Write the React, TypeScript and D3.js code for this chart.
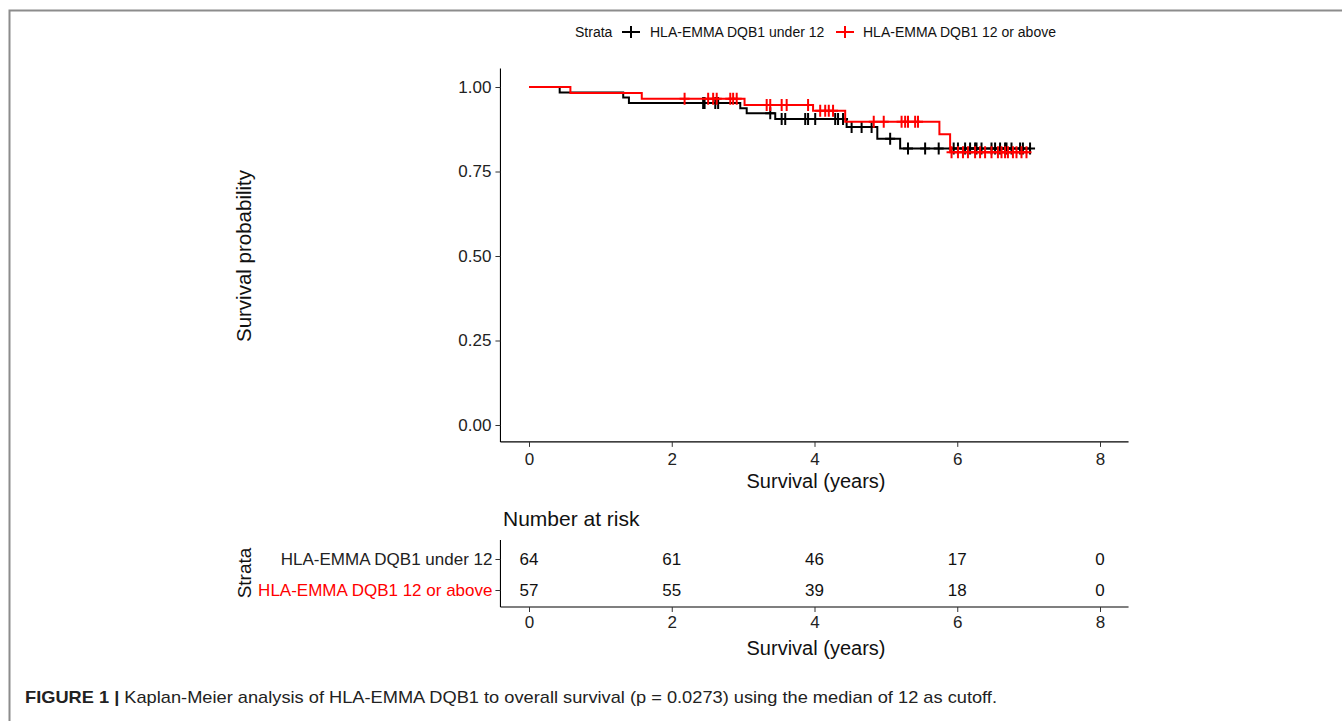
import React, { useEffect, useRef } from 'react';
import * as d3 from 'd3';

const strata = ['HLA-EMMA DQB1 under 12', 'HLA-EMMA DQB1 12 or above'];
const strataColors = ['#000000', '#ff0000'];

// Kaplan-Meier steps: [time, survival after the drop]
const underSteps: [number, number][] = [
  [0, 1], [0.43, 0.984], [1.32, 0.969], [1.4, 0.953], [2.96, 0.937], [3.05, 0.922],
  [3.45, 0.905], [4.45, 0.882], [4.88, 0.847], [5.2, 0.818],
];
const underEnd = 7.03;
const underCensor = [
  2.44, 2.46, 2.61, 2.65, 3.38, 3.54, 3.59, 3.87, 3.91, 4.01, 4.29, 4.33, 4.4, 4.52, 4.66,
  4.8, 5.06, 5.31, 5.55, 5.74, 5.95, 6.01, 6.11, 6.18, 6.25, 6.27, 6.34, 6.48, 6.53, 6.6,
  6.67, 6.69, 6.76, 6.88, 6.92, 7.02,
];

const aboveSteps: [number, number][] = [
  [0, 1], [0.58, 0.982], [1.58, 0.965], [3.02, 0.947], [3.98, 0.93], [4.43, 0.897],
  [5.75, 0.86], [5.9, 0.807],
];
const aboveEnd = 7.0;
const aboveCensor = [
  2.18, 2.51, 2.58, 2.63, 2.82, 2.86, 2.91, 3.33, 3.38, 3.54, 3.61, 3.91, 4.08, 4.15, 4.2,
  4.26, 4.83, 4.97, 5.22, 5.27, 5.31, 5.41, 5.45, 5.92, 6.01, 6.08, 6.15, 6.25, 6.32, 6.39,
  6.48, 6.57, 6.62, 6.67, 6.71, 6.78, 6.83, 6.9, 6.97,
];

const xTicks = [0, 2, 4, 6, 8];
const yTicks = [0, 0.25, 0.5, 0.75, 1];
const riskUnder = [64, 61, 46, 17, 0];
const riskAbove = [57, 55, 39, 18, 0];

const FONT = '"Liberation Sans", Arial, sans-serif';

function survAt(steps: [number, number][], t: number) {
  let s = 1;
  for (const [time, val] of steps) if (time <= t) s = val;
  return s;
}

export default function App() {
  const ref = useRef<SVGSVGElement>(null);

  useEffect(() => {
    const svg = d3.select(ref.current);
    svg.selectAll('*').remove();

    // frame of the figure
    svg.append('path')
      .attr('d', 'M9.5,721 V10.5 H1342')
      .attr('fill', 'none')
      .attr('stroke', '#8c8c8c')
      .attr('stroke-width', 2);

    const x = d3.scaleLinear().domain([0, 8]).range([529, 1100]);
    const y = d3.scaleLinear().domain([0, 1]).range([425, 87]);

    // legend
    const leg = svg.append('g').attr('font-family', FONT).attr('font-size', 14).attr('fill', '#111');
    leg.append('text').attr('x', 575).attr('y', 37).text('Strata');
    const keyX = [631, 845];
    const labX = [650, 863];
    strata.forEach((s, i) => {
      leg.append('line').attr('x1', keyX[i] - 9).attr('x2', keyX[i] + 9).attr('y1', 32).attr('y2', 32)
        .attr('stroke', strataColors[i]).attr('stroke-width', 2);
      leg.append('line').attr('x1', keyX[i]).attr('x2', keyX[i]).attr('y1', 26).attr('y2', 38)
        .attr('stroke', strataColors[i]).attr('stroke-width', 2);
      leg.append('text').attr('x', labX[i]).attr('y', 37).text(s);
    });

    // survival plot axes
    const plot = svg.append('g');
    plot.append('g')
      .attr('transform', `translate(${x(-0.4)},0)`)
      .call(d3.axisLeft(y).tickValues(yTicks).tickFormat(d3.format('.2f')).tickSize(5).tickPadding(4))
      .call((g) => g.select('.domain').attr('d', `M0,${y(1.055)}V${y(-0.05)}`));
    plot.append('g')
      .attr('transform', `translate(0,${y(-0.05)})`)
      .call(d3.axisBottom(x).tickValues(xTicks).tickSize(5).tickPadding(6))
      .call((g) => g.select('.domain').attr('d', `M${x(-0.4)},0H${x(8.4)}`));
    plot.selectAll('.tick text').attr('font-family', FONT).attr('font-size', 17).attr('fill', '#222');
    plot.selectAll('.tick line').attr('stroke', '#333');
    plot.selectAll('.domain').attr('stroke', '#000').attr('stroke-width', 1.1);

    plot.append('text')
      .attr('x', 816).attr('y', 488).attr('text-anchor', 'middle')
      .attr('font-family', FONT).attr('font-size', 20).attr('fill', '#111')
      .text('Survival (years)');
    plot.append('text')
      .attr('transform', `translate(251,256) rotate(-90)`).attr('text-anchor', 'middle')
      .attr('font-family', FONT).attr('font-size', 20.5).attr('fill', '#111')
      .text('Survival probability');

    // curves
    const line = d3.line<[number, number]>()
      .x((d) => x(d[0]))
      .y((d) => y(d[1]))
      .curve(d3.curveStepAfter);
    const curves = [
      { steps: underSteps, end: underEnd, censor: underCensor },
      { steps: aboveSteps, end: aboveEnd, censor: aboveCensor },
    ];
    curves.forEach((c, i) => {
      const pts: [number, number][] = [...c.steps, [c.end, c.steps[c.steps.length - 1][1]]];
      plot.append('path')
        .attr('d', line(pts))
        .attr('fill', 'none')
        .attr('stroke', strataColors[i])
        .attr('stroke-width', 2);
      const marks = plot.append('g').attr('stroke', strataColors[i]).attr('stroke-width', 2);
      c.censor.forEach((t) => {
        const cx = x(t);
        const cy = y(survAt(c.steps, t));
        marks.append('path').attr('d', `M${cx - 5},${cy}H${cx + 5}M${cx},${cy - 6}V${cy + 6}`);
      });
    });

    // risk table
    svg.append('text')
      .attr('x', 503).attr('y', 526)
      .attr('font-family', FONT).attr('font-size', 21).attr('fill', '#111')
      .text('Number at risk');

    const rowY = d3.scalePoint<string>().domain(strata).range([559, 590]);
    const table = svg.append('g');
    table.append('g')
      .attr('transform', `translate(${x(-0.4)},0)`)
      .call(d3.axisLeft(rowY).tickSize(5).tickPadding(3))
      .call((g) => g.select('.domain').attr('d', `M0,540V607`));
    table.append('g')
      .attr('transform', `translate(0,607)`)
      .call(d3.axisBottom(x).tickValues(xTicks).tickSize(5).tickPadding(4))
      .call((g) => g.select('.domain').attr('d', `M${x(-0.4)},0H${x(8.4)}`));
    table.selectAll('.tick text').attr('font-family', FONT).attr('font-size', 17).attr('fill', '#222');
    table.selectAll('.tick line').attr('stroke', '#333');
    table.selectAll('.domain').attr('stroke', '#000').attr('stroke-width', 1.1);
    table.selectAll('.tick text').filter((d) => d === strata[1]).attr('fill', '#ff0000');

    [riskUnder, riskAbove].forEach((row, i) => {
      table.append('g').selectAll('text').data(row).join('text')
        .attr('x', (_, j) => x(xTicks[j]))
        .attr('y', rowY(strata[i])! + 6)
        .attr('text-anchor', 'middle')
        .attr('font-family', FONT).attr('font-size', 17).attr('fill', '#111')
        .text((d) => d);
    });

    table.append('text')
      .attr('x', 816).attr('y', 655).attr('text-anchor', 'middle')
      .attr('font-family', FONT).attr('font-size', 20).attr('fill', '#111')
      .text('Survival (years)');
    table.append('text')
      .attr('transform', `translate(251,573) rotate(-90)`).attr('text-anchor', 'middle')
      .attr('font-family', FONT).attr('font-size', 19).attr('fill', '#111')
      .text('Strata');

    // caption
    const cap = svg.append('text')
      .attr('x', 25).attr('y', 703)
      .attr('font-family', FONT).attr('font-size', 17).attr('fill', '#222')
      .attr('textLength', 972).attr('lengthAdjust', 'spacingAndGlyphs');
    cap.append('tspan').attr('font-weight', 'bold').text('FIGURE 1 | ');
    cap.append('tspan').text('Kaplan-Meier analysis of HLA-EMMA DQB1 to overall survival (p = 0.0273) using the median of 12 as cutoff.');
  }, []);

  return (
    <svg
      ref={ref}
      width={1342}
      height={721}
      style={{ position: 'absolute', left: 0, top: 0, background: '#fff' }}
    />
  );
}
